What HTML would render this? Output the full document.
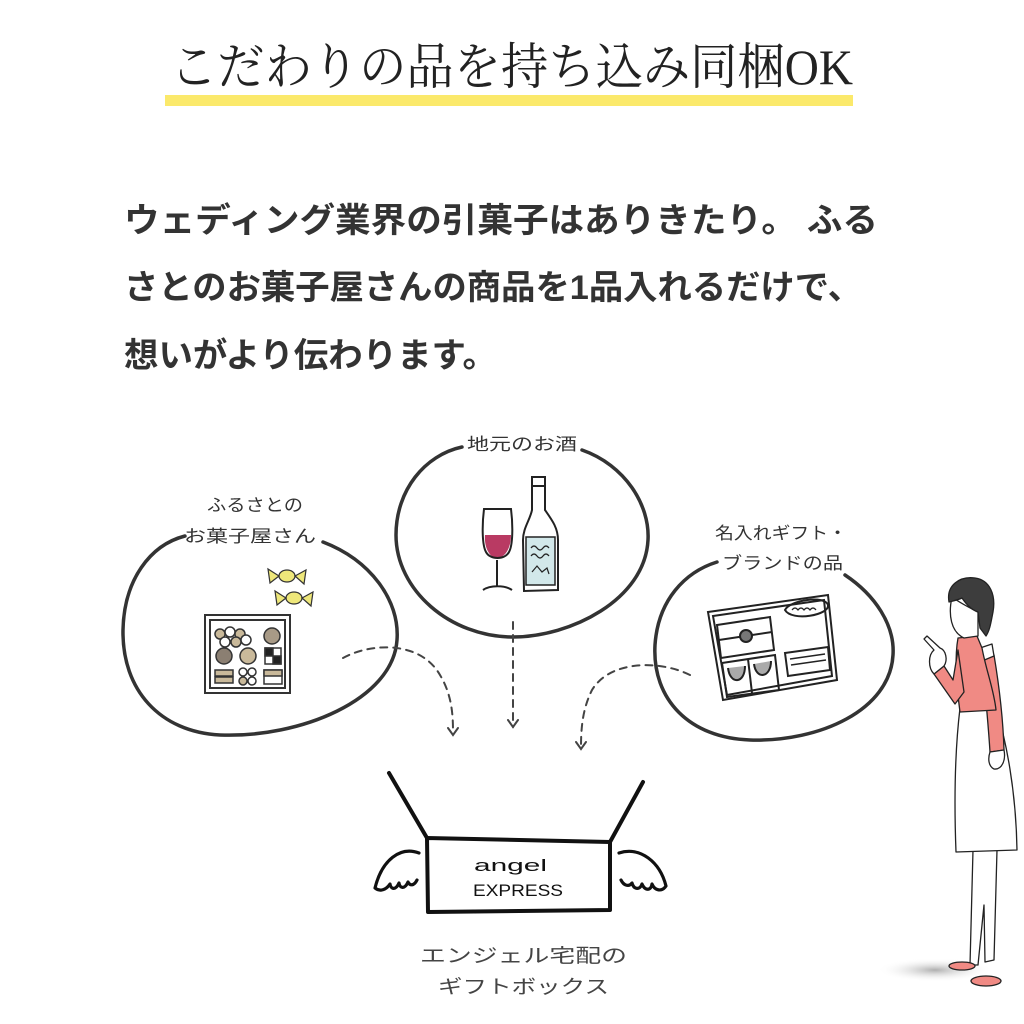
<!DOCTYPE html>
<html><head><meta charset="utf-8"><style>
html,body{margin:0;padding:0;background:#fff;}
svg{display:block;}
</style></head><body>
<svg width="1024" height="1024" viewBox="0 0 1024 1024" xmlns="http://www.w3.org/2000/svg">
<defs>
<radialGradient id="sh" cx="0.5" cy="0.5" r="0.5">
<stop offset="0" stop-color="#9a9a9a" stop-opacity="0.8"/>
<stop offset="1" stop-color="#ffffff" stop-opacity="0"/>
</radialGradient>
</defs>
<rect width="1024" height="1024" fill="#fff"/>

<!-- Title -->
<text x="170" y="84" font-family="'Liberation Serif','Noto Serif CJK JP','Noto Serif CJK SC',serif" font-size="50" fill="#222" textLength="683" lengthAdjust="spacingAndGlyphs">こだわりの品を持ち込み同梱OK</text>
<rect x="165" y="95" width="688" height="11" fill="#fbe96b"/>

<!-- Paragraph -->
<g font-family="'Liberation Sans','Noto Sans CJK JP',sans-serif" font-weight="bold" font-size="34" fill="#333">
<text x="124" y="232" textLength="754" lengthAdjust="spacingAndGlyphs">ウェディング業界の引菓子はありきたり。 ふる</text>
<text x="124" y="299" textLength="738" lengthAdjust="spacingAndGlyphs">さとのお菓子屋さんの商品を1品入れるだけで、</text>
<text x="124" y="367" textLength="373" lengthAdjust="spacingAndGlyphs">想いがより伝わります。</text>
</g>

<!-- Labels -->
<g font-family="'Liberation Sans','Noto Sans CJK JP',sans-serif" font-size="17" fill="#333">
<text x="207" y="511" textLength="96" lengthAdjust="spacingAndGlyphs">ふるさとの</text>
<text x="184" y="542" textLength="132" lengthAdjust="spacingAndGlyphs">お菓子屋さん</text>
<text x="467" y="450" textLength="110" lengthAdjust="spacingAndGlyphs">地元のお酒</text>
<text x="715" y="539" textLength="132" lengthAdjust="spacingAndGlyphs">名入れギフト・</text>
<text x="722" y="569" textLength="121" lengthAdjust="spacingAndGlyphs">ブランドの品</text>
</g>

<!-- Circles -->
<g fill="none" stroke="#333" stroke-width="3.5" stroke-linecap="round">
<path d="M 323 542 C 370 560, 400 600, 397 640 C 393 700, 300 738, 220 735 C 160 732, 122 690, 123 630 C 124 580, 150 545, 185 536"/>
<path d="M 582 450 C 625 465, 650 505, 648 540 C 645 600, 570 637, 513 637 C 450 637, 396 590, 396 535 C 396 490, 425 455, 462 447"/>
<path d="M 845 575 C 875 595, 895 625, 893 655 C 890 710, 820 742, 750 740 C 690 738, 652 700, 655 645 C 658 600, 685 572, 717 562"/>
</g>

<!-- Dashed arrows -->
<g fill="none" stroke="#444" stroke-width="2" stroke-linecap="round">
<path d="M 343 658 C 370 643, 420 640, 440 675 C 452 695, 453 715, 453 732" stroke-dasharray="7 6"/>
<path d="M 448 728 L 453 735 L 458 728"/>
<path d="M 513 622 L 513 727" stroke-dasharray="7 6"/>
<path d="M 508 720 L 513 727 L 518 720"/>
<path d="M 690 675 C 660 660, 610 660, 592 690 C 582 710, 581 730, 581 748" stroke-dasharray="7 6"/>
<path d="M 576 742 L 581 749 L 586 742"/>
</g>

<!-- Sweets box -->
<g stroke="#333" stroke-width="2" fill="none">
<rect x="205" y="615" width="85" height="78" fill="#fff"/>
<rect x="210" y="620" width="75" height="68"/>
<g fill="#c9b99a" stroke-width="1.5">
<circle cx="220" cy="634" r="5"/><circle cx="230" cy="632" r="5" fill="#fff"/><circle cx="240" cy="634" r="5"/><circle cx="225" cy="642" r="5" fill="#fff"/><circle cx="236" cy="642" r="5"/><circle cx="246" cy="640" r="5" fill="#fff"/>
<circle cx="272" cy="636" r="8" fill="#a89a86"/>
<circle cx="224" cy="656" r="8" fill="#8b7f72"/>
<circle cx="248" cy="656" r="8"/>
<rect x="265" y="648" width="16" height="16" fill="#fff"/>
<rect x="265" y="648" width="8" height="8" fill="#222"/><rect x="273" y="656" width="8" height="8" fill="#222"/>
<rect x="215" y="670" width="18" height="6"/><rect x="215" y="677" width="18" height="6"/>
<circle cx="243" cy="672" r="4" fill="#fff"/><circle cx="252" cy="672" r="4" fill="#fff"/><circle cx="243" cy="681" r="4"/><circle cx="252" cy="681" r="4" fill="#fff"/>
<rect x="264" y="670" width="18" height="14" fill="#fff"/><rect x="264" y="670" width="18" height="6"/>
</g>
</g>
<!-- Candies -->
<g stroke="#333" stroke-width="1.2" fill="#eee77a">
<ellipse cx="287" cy="576" rx="8" ry="6"/>
<path d="M 279 576 L 268 569 L 270 583 Z M 295 576 L 306 570 L 304 584 Z"/>
<ellipse cx="294" cy="598" rx="8" ry="6"/>
<path d="M 286 598 L 275 591 L 277 605 Z M 302 598 L 313 592 L 311 606 Z"/>
</g>

<!-- Wine glass -->
<g stroke="#222" stroke-width="2" fill="none">
<path d="M 485 535 C 484 548, 490 558, 497 558 C 505 558, 511 548, 511 535 Z" fill="#b93a63" stroke="none"/>
<path d="M 484 509 L 511 509 C 513 525, 513 545, 509 552 C 505 560, 490 560, 486 552 C 482 545, 482 525, 484 509 Z"/>
<path d="M 497 560 L 497 586 M 483 590 C 490 585, 505 585, 512 590"/>
</g>
<!-- Bottle -->
<g stroke="#222" stroke-width="2">
<path d="M 532 477 L 545 477 L 545 510 C 552 520, 558 528, 558 540 L 558 590 L 524 591 L 523 540 C 523 528, 530 520, 532 510 Z" fill="#fff"/>
<rect x="526" y="537" width="29" height="48" fill="#d2e8ea" stroke-width="1.5"/>
<path d="M 532 486 L 545 486" fill="none"/>
<path d="M 531 548 q 3 -4 6 0 q 3 4 6 0 q 3 -4 6 0 M 531 556 q 3 -4 6 0 q 3 4 6 0 q 3 -4 6 0 M 532 572 l 5 -6 l 5 6 l 5 -4 l 2 6" fill="none" stroke-width="1.2"/>
</g>

<!-- Tray -->
<g stroke="#222" stroke-width="2" fill="#fff">
<path d="M 708 612 L 828 595 L 837 680 L 723 700 Z"/>
<path d="M 713 616 L 824 600 L 832 676 L 727 695 Z" fill="none"/>
<path d="M 717 625 L 770 617 L 774 650 L 721 658 Z"/>
<path d="M 719 640 L 772 632" fill="none"/>
<circle cx="746" cy="636" r="6" fill="#777"/>
<path d="M 722 663 L 775 655 L 779 690 L 727 697 Z" fill="none"/>
<path d="M 748 659 L 752 693" fill="none"/>
<path d="M 728 668 C 730 685, 745 684, 745 666" fill="#aaa"/>
<path d="M 754 664 C 756 680, 771 678, 771 661" fill="#aaa"/>
<path d="M 785 653 L 828 647 L 830 670 L 788 676 Z" fill="none"/>
<path d="M 790 659 L 825 654 M 791 665 L 826 660" fill="none" stroke-width="1.5"/>
<path d="M 785 610 C 790 600, 825 595, 828 605 C 830 615, 792 622, 785 610 Z" fill="none"/>
<path d="M 792 610 q 3 -4 6 0 q 3 -4 6 0 q 3 -4 6 0 q 3 -4 6 0" fill="none" stroke-width="1.2"/>
</g>

<!-- Gift box -->
<g stroke="#111" stroke-width="4" fill="none" stroke-linecap="round" stroke-linejoin="round">
<path d="M 427 838 L 610 842 L 610 910 L 428 912 Z"/>
<path d="M 427 838 L 389 773 M 610 842 L 643 782"/>
</g>
<g stroke="#111" stroke-width="3.2" fill="#fff" stroke-linejoin="round" stroke-linecap="round">
<path d="M 419 853 C 400 846, 382 860, 375 888 C 380 892, 386 890, 390 884 C 391 890, 396 890, 399 883 C 400 889, 405 889, 408 882 C 410 886, 414 886, 417 880"/>
<path d="M 619 853 C 640 846, 660 862, 666 886 C 662 892, 655 891, 652 884 C 651 891, 645 891, 642 884 C 640 890, 634 890, 632 883 C 629 887, 624 886, 621 880"/>
</g>
<g font-family="'Liberation Sans',sans-serif" fill="#111">
<text x="474" y="871" font-size="17" textLength="73" lengthAdjust="spacingAndGlyphs">angel</text>
<text x="473" y="896" font-size="17" textLength="90" lengthAdjust="spacingAndGlyphs">EXPRESS</text>
</g>

<!-- Caption -->
<g font-family="'Liberation Sans','Noto Sans CJK JP',sans-serif" font-size="19" fill="#444">
<text x="420" y="962" textLength="207" lengthAdjust="spacingAndGlyphs">エンジェル宅配の</text>
<text x="438" y="993" textLength="171" lengthAdjust="spacingAndGlyphs">ギフトボックス</text>
</g>

<!-- Woman -->
<ellipse cx="935" cy="970" rx="58" ry="12" fill="url(#sh)"/>
<g stroke="#222" stroke-width="1.3" stroke-linejoin="round">
<!-- legs -->
<path d="M 973 850 L 997 850 L 994 960 L 985 962 L 984 905 L 978 965 L 970 965 Z" fill="#fff"/>
<!-- shoes -->
<ellipse cx="962" cy="966" rx="13" ry="4" fill="#f08a84"/>
<ellipse cx="986" cy="981" rx="15" ry="5" fill="#f08a84"/>
<!-- skirt -->
<path d="M 960 708 L 996 708 C 1006 740, 1016 790, 1017 850 L 956 852 C 954 800, 955 750, 960 708 Z" fill="#fff"/>
<!-- right arm sleeve -->
<path d="M 982 660 L 994 655 C 999 685, 1003 715, 1004 750 L 990 752 C 988 720, 985 690, 982 660 Z" fill="#f08a84"/>
<path d="M 980 648 L 992 644 L 994 656 L 982 661 Z" fill="#fff"/>
<path d="M 990 752 L 1004 750 C 1006 760, 1002 770, 994 769 C 988 766, 988 758, 990 752 Z" fill="#fff"/>
<!-- torso -->
<path d="M 958 638 L 977 636 L 982 648 C 986 670, 994 690, 996 710 L 960 712 C 957 690, 954 660, 958 638 Z" fill="#f08a84"/>
<!-- raised arm -->
<path d="M 958 650 L 964 692 L 955 704 L 934 674 L 944 666 L 953 680 Z" fill="#f08a84"/>
<path d="M 934 674 L 944 666 C 948 660, 946 650, 940 648 L 927 636 L 924 639 L 934 650 C 928 655, 928 668, 934 674 Z" fill="#fff"/>
<!-- face -->
<path d="M 952 597 C 948 615, 951 632, 964 638 L 978 636 L 978 612 C 970 608, 960 603, 952 597 Z" fill="#fff"/>
<!-- hair -->
<path d="M 949 602 C 946 585, 960 576, 975 578 C 990 580, 996 595, 993 612 C 991 622, 990 630, 986 636 L 980 628 L 978 612 C 972 610, 966 604, 962 598 C 958 600, 953 601, 949 602 Z" fill="#3d3d3d"/>
</g>
</svg>
</body></html>
